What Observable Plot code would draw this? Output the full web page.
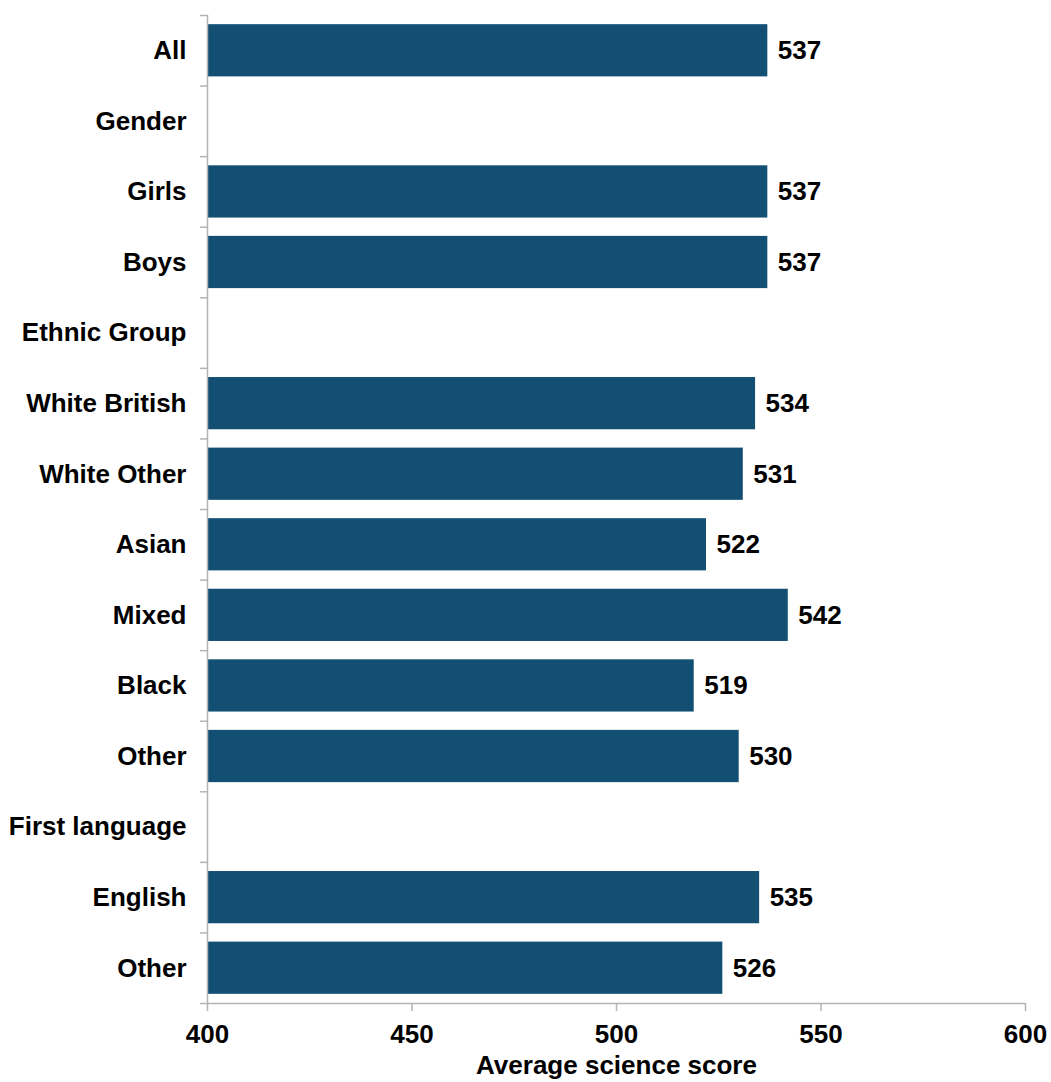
<!DOCTYPE html>
<html>
<head>
<meta charset="utf-8">
<script src="https://cdn.jsdelivr.net/npm/d3@7"></script>
<script src="https://cdn.jsdelivr.net/npm/@observablehq/plot@0.6"></script>
<style>
  body { margin: 0; background: #fff; }
  #chart svg { display: block; }
</style>
</head>
<body>
<div id="chart"></div>
<script>
const categories = ["All", "Gender", "Girls", "Boys", "Ethnic Group", "White British", "White Other", "Asian", "Mixed", "Black", "Other", "First language", "English", "Other"];
const scores = [537, null, 537, 537, null, 534, 531, 522, 542, 519, 530, null, 535, 526];
const xTicks = [400, 450, 500, 550, 600];

const rows = categories.map((c, i) => ({i, c, v: scores[i]}));
const bars = rows.filter(d => d.v != null);
const font = "'Liberation Sans', Arial, sans-serif";
const grey = "#b3b3b3";
const barColor = "#124f73";

const chart = Plot.plot({
  width: 1051,
  height: 1082,
  marginLeft: 207,
  marginRight: 26,
  marginTop: 15,
  marginBottom: 79,
  style: {fontFamily: font, fontWeight: "bold", color: "#000", background: "#fff"},
  x: {domain: [400, 600]},
  y: {domain: [0, categories.length], reverse: true},
  marks: [
    Plot.rect(bars, {x1: 400, x2: "v", y1: d => d.i + 0.13, y2: d => d.i + 0.87, fill: barColor}),
    Plot.text(bars, {x: "v", y: d => d.i + 0.5, text: d => String(d.v), dx: 10, textAnchor: "start", fontSize: 26, fontWeight: "bold", fill: "#000"}),
    Plot.ruleX([400], {y1: 0, y2: categories.length, stroke: grey, strokeWidth: 1.5}),
    Plot.ruleY([categories.length], {x1: 400, x2: 600, stroke: grey, strokeWidth: 1.5}),
    Plot.axisY({ticks: d3.range(categories.length + 1), tickSize: 7, tickFormat: () => "", stroke: grey, strokeWidth: 1.5}),
    Plot.axisY({ticks: rows.map(d => d.i + 0.5), tickSize: 0, tickPadding: 21, tickFormat: t => categories[Math.floor(t)], fontSize: 26, fontWeight: "bold", fill: "#000"}),
    Plot.axisX({ticks: xTicks, tickSize: 8, tickPadding: 13, tickFormat: d => String(d), fontSize: 26, fontWeight: "bold", stroke: grey, strokeWidth: 1.5, fill: "#000",
      label: "Average science score", labelAnchor: "center", labelArrow: "none", labelOffset: 70})
  ]
});
document.getElementById("chart").appendChild(chart);
</script>
</body>
</html>
